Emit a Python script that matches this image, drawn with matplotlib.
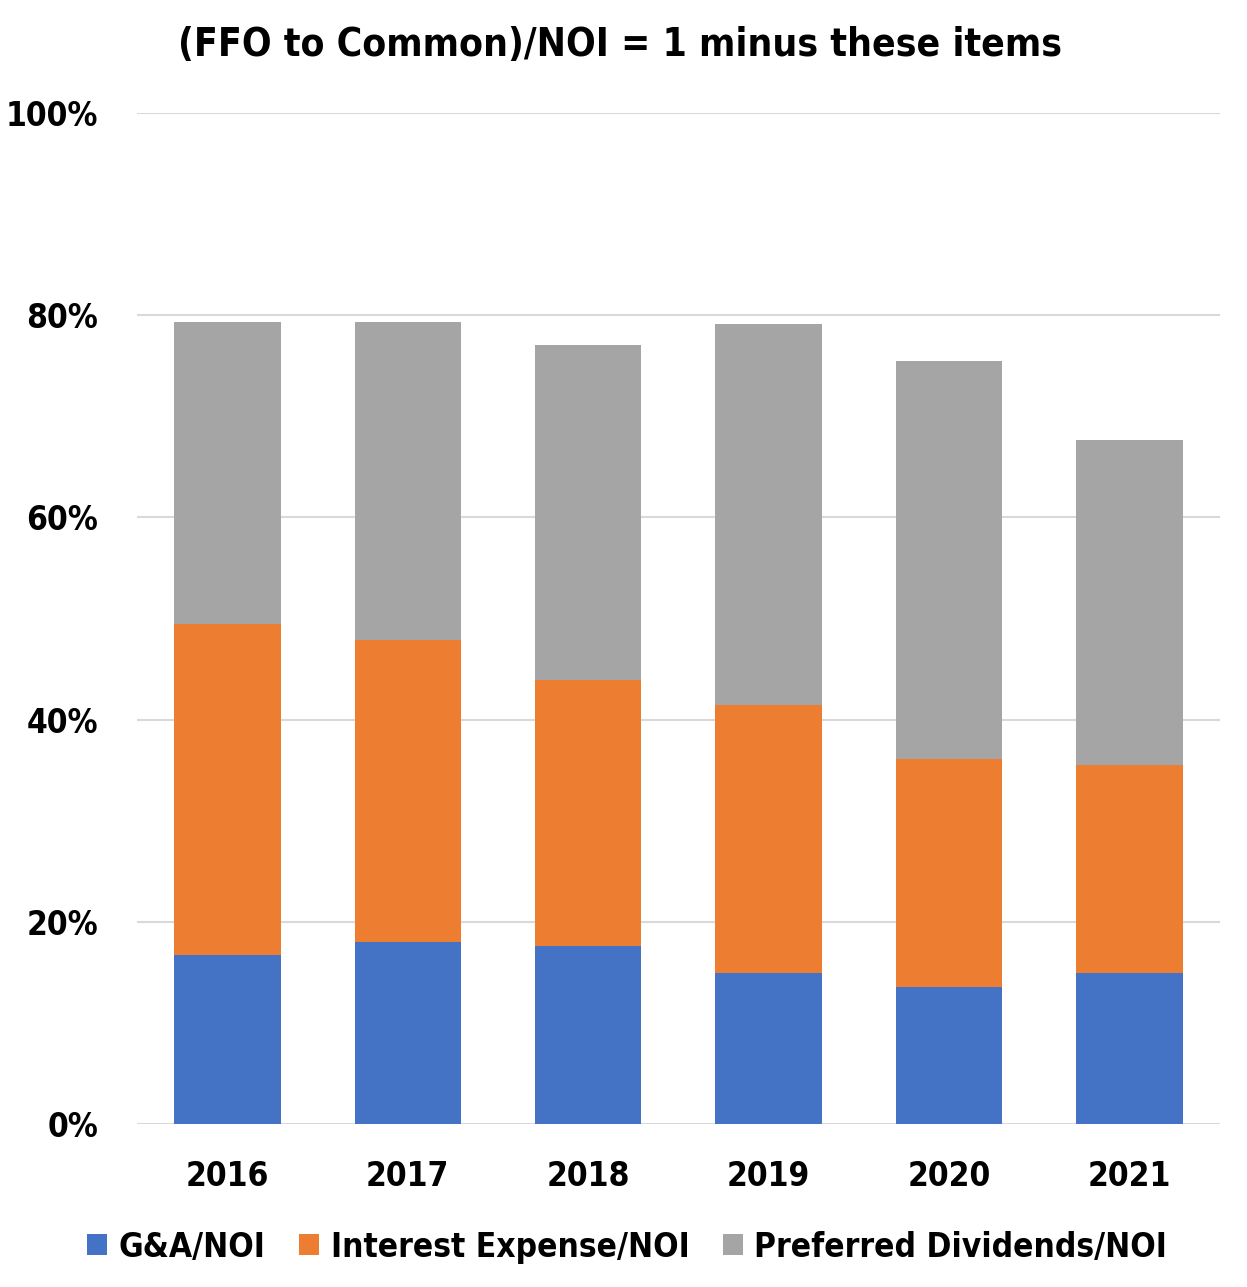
import numpy as np
import matplotlib.pyplot as plt
from matplotlib.ticker import PercentFormatter

plt.rcParams['font.family'] = ['DejaVu Sans']
plt.rcParams['font.stretch'] = 'condensed'
plt.rcParams['font.weight'] = 'bold'

years = ['2016', '2017', '2018', '2019', '2020', '2021']
ga_noi = [16.7, 18.0, 17.6, 14.9, 13.5, 14.9]
interest_noi = [32.8, 29.9, 26.3, 26.5, 22.6, 20.6]
preferred_noi = [29.8, 31.4, 33.2, 37.7, 39.4, 32.2]

colors = ['#4472C4', '#ED7D31', '#A5A5A5']
labels = ['G&A/NOI', 'Interest Expense/NOI', 'Preferred Dividends/NOI']

fig = plt.figure(figsize=(12.47, 12.87), dpi=100)
ax = fig.add_axes([0.110, 0.1267, 0.868, 0.7855])

x = np.arange(len(years))
bottom = np.zeros(len(years))
for vals, c, lab in zip([ga_noi, interest_noi, preferred_noi], colors, labels):
    ax.bar(x, vals, 0.59, bottom=bottom, color=c, label=lab, zorder=3)
    bottom += np.array(vals)

ax.set_ylim(0, 100)
ax.set_xlim(-0.5, len(years) - 0.5)
ax.set_yticks(np.arange(0, 101, 20))
ax.yaxis.set_major_formatter(PercentFormatter(decimals=0))
ax.set_xticks(x)
ax.set_xticklabels(years)
ax.tick_params(axis='both', length=0, labelsize=24)
ax.tick_params(axis='y', pad=28)
ax.tick_params(axis='x', pad=26)
ax.grid(axis='y', color='#D9D9D9', linewidth=1.5, zorder=0)
for s in ax.spines.values():
    s.set_visible(False)

fig.text(0.497, 0.965, '(FFO to Common)/NOI = 1 minus these items',
         ha='center', va='center', fontsize=28, fontweight='bold')

fig.legend(loc='center', bbox_to_anchor=(0.503, 0.031), ncol=3, frameon=False,
           fontsize=24, handlelength=0.6, handleheight=0.6, handletextpad=0.35,
           columnspacing=1.0)

fig.savefig('out.png', dpi=100)
